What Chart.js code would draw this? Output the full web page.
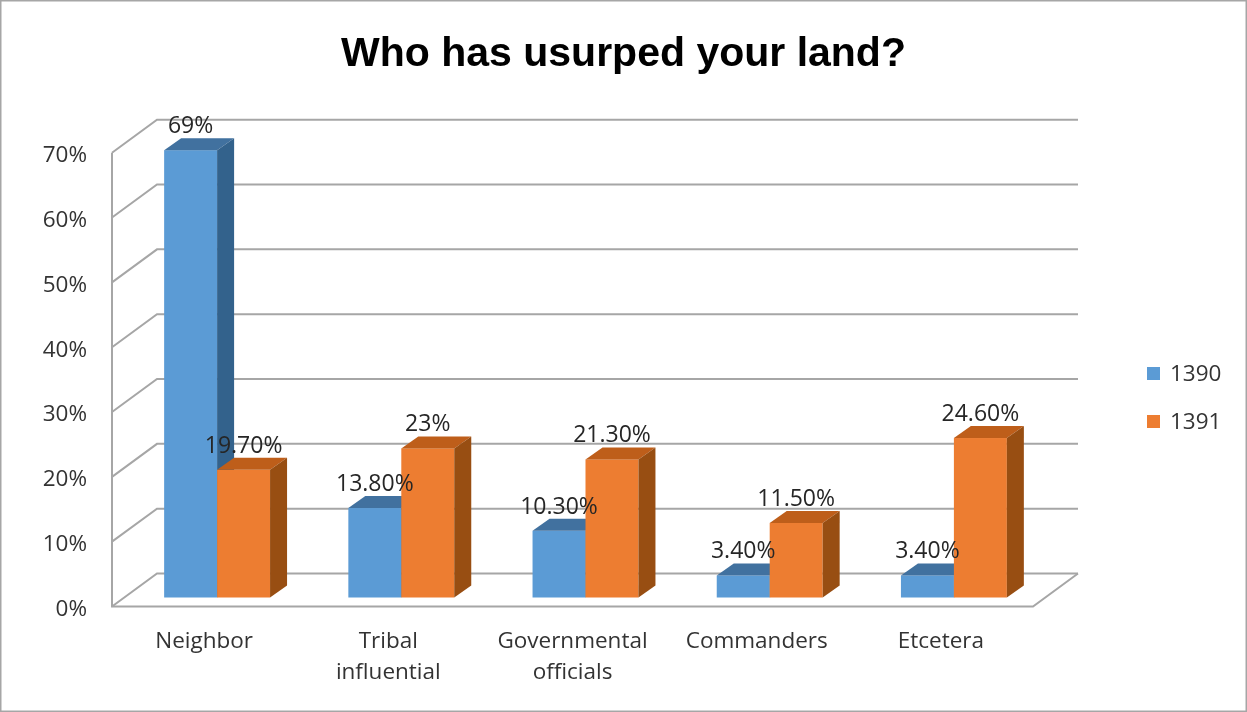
<!DOCTYPE html>
<html>
<head>
<meta charset="utf-8">
<title>Who has usurped your land?</title>
<script src="https://cdn.jsdelivr.net/npm/chart.js@4/dist/chart.umd.min.js"></script>
<style>
  html, body { margin: 0; padding: 0; background: #fff; }
  canvas { display: block; }
</style>
</head>
<body>
<canvas id="landChart" width="1247" height="712"></canvas>
<script>
// survey data: share of answers per year
const categories = ['Neighbor', ['Tribal', 'influential'], ['Governmental', 'officials'], 'Commanders', 'Etcetera'];
const years = ['1390', '1391'];
const values1390 = [69, 13.8, 10.3, 3.4, 3.4];
const values1391 = [19.7, 23, 21.3, 11.5, 24.6];
const yMax = 70;
const yStep = 10;

const FONT = "'Open Sans', 'DejaVu Sans', sans-serif";
const TEXT = '#333333';

// front / top / side shades for each series
const faces = [
  { front: '#5B9BD5', top: '#41719F', side: '#33628C' },
  { front: '#ED7D31', top: '#BE5E1A', side: '#984E12' }
];

// pseudo-3d offsets
const WALL = { x: 45, y: -33 };   // depth of the back wall
const SHIFT = { x: 13, y: -9 };   // bars sit a little behind the front edge
const CAP = { x: 17, y: -12 };    // depth of each bar

function fmt(v) {
  return Number.isInteger(v) ? v + '%' : v.toFixed(2) + '%';
}

const box3d = {
  id: 'box3d',
  beforeDatasetsDraw(chart) {
    const { ctx, chartArea: a, scales: { y } } = chart;
    ctx.save();
    ctx.strokeStyle = '#A6A6A6';
    ctx.lineWidth = 2;

    // side wall diagonals + back wall grid lines
    y.ticks.forEach(t => {
      const yf = y.getPixelForValue(t.value);
      ctx.beginPath();
      ctx.moveTo(a.left, yf);
      ctx.lineTo(a.left + WALL.x, yf + WALL.y);
      ctx.lineTo(a.right + WALL.x, yf + WALL.y);
      ctx.stroke();
    });

    // front edge of the wall and the floor
    const y0 = y.getPixelForValue(0);
    ctx.beginPath();
    ctx.moveTo(a.left, y.getPixelForValue(yMax));
    ctx.lineTo(a.left, y0);
    ctx.lineTo(a.right, y0);
    ctx.lineTo(a.right + WALL.x, y0 + WALL.y);
    ctx.stroke();

    // columns, category by category so the right one covers the left one's side
    const metas = chart.data.datasets.map((d, i) => chart.getDatasetMeta(i));
    categories.forEach((c, i) => {
      metas.forEach((meta, di) => {
        const el = meta.data[i];
        const f = faces[di];
        const l = el.x - el.width / 2 + SHIFT.x;
        const r = el.x + el.width / 2 + SHIFT.x;
        const top = el.y + SHIFT.y;
        const bot = el.base + SHIFT.y;

        ctx.fillStyle = f.front;
        ctx.fillRect(l, top, r - l, bot - top);

        ctx.fillStyle = f.top;
        ctx.beginPath();
        ctx.moveTo(l, top);
        ctx.lineTo(l + CAP.x, top + CAP.y);
        ctx.lineTo(r + CAP.x, top + CAP.y);
        ctx.lineTo(r, top);
        ctx.closePath();
        ctx.fill();

        ctx.fillStyle = f.side;
        ctx.beginPath();
        ctx.moveTo(r, top);
        ctx.lineTo(r + CAP.x, top + CAP.y);
        ctx.lineTo(r + CAP.x, bot + CAP.y);
        ctx.lineTo(r, bot);
        ctx.closePath();
        ctx.fill();
      });
    });
    ctx.restore();
    return false;
  },
  afterDraw(chart) {
    const { ctx, chartArea: a } = chart;
    ctx.save();

    // value labels above each column
    ctx.font = '23px ' + FONT;
    ctx.fillStyle = '#262626';
    ctx.textAlign = 'center';
    ctx.textBaseline = 'alphabetic';
    chart.data.datasets.forEach((ds, di) => {
      chart.getDatasetMeta(di).data.forEach((el, i) => {
        const yTop = el.y + SHIFT.y + CAP.y;
        ctx.fillText(fmt(ds.data[i]), el.x + SHIFT.x, yTop - 5);
      });
    });

    // legend
    ctx.font = '22.5px ' + FONT;
    ctx.textAlign = 'left';
    ctx.textBaseline = 'middle';
    chart.data.datasets.forEach((ds, di) => {
      const lx = a.right + 114;
      const cy = 373.5 + di * 48;
      ctx.fillStyle = ds.backgroundColor;
      ctx.fillRect(lx, cy - 6.5, 13, 13);
      ctx.fillStyle = TEXT;
      ctx.fillText(ds.label, lx + 23, cy + 1);
    });

    // outer frame
    ctx.strokeStyle = '#A6A6A6';
    ctx.lineWidth = 1.5;
    ctx.strokeRect(0.75, 0.75, chart.width - 1.5, chart.height - 1.5);
    ctx.restore();
  }
};

const ctx = document.getElementById('landChart').getContext('2d');
new Chart(ctx, {
  type: 'bar',
  data: {
    labels: categories,
    datasets: [
      { label: years[0], data: values1390, backgroundColor: faces[0].front, categoryPercentage: 0.575, barPercentage: 1 },
      { label: years[1], data: values1391, backgroundColor: faces[1].front, categoryPercentage: 0.575, barPercentage: 1 }
    ]
  },
  options: {
    responsive: false,
    animation: false,
    layout: { padding: 0 },
    plugins: {
      legend: { display: false },
      tooltip: { enabled: false },
      title: {
        display: true,
        text: 'Who has usurped your land?',
        color: '#000',
        font: { family: "'Liberation Sans', Arial, sans-serif", size: 41, weight: 'bold', lineHeight: 1.2 },
        padding: { top: 30, bottom: 73.5 }
      }
    },
    scales: {
      x: {
        grid: { display: false, drawTicks: false },
        border: { display: false },
        ticks: {
          color: TEXT,
          font: { family: FONT, size: 22.5, lineHeight: 1.38 },
          padding: 20,
          maxRotation: 0,
          autoSkip: false
        },
        afterFit(s) { s.height = 105.5; }
      },
      y: {
        min: 0,
        max: yMax,
        grid: { display: false, drawTicks: false },
        border: { display: false },
        ticks: {
          stepSize: yStep,
          color: TEXT,
          font: { family: FONT, size: 22.5 },
          padding: 25,
          labelOffset: 3,
          callback: v => v + '%'
        },
        afterFit(s) { s.width = 112; }
      },
      // empty right-hand band that holds the series key
      keyBand: {
        type: 'linear',
        position: 'right',
        display: true,
        grid: { display: false, drawTicks: false },
        border: { display: false },
        ticks: { display: false },
        afterFit(s) { s.width = 214; }
      }
    }
  },
  plugins: [box3d]
});
</script>
</body>
</html>
